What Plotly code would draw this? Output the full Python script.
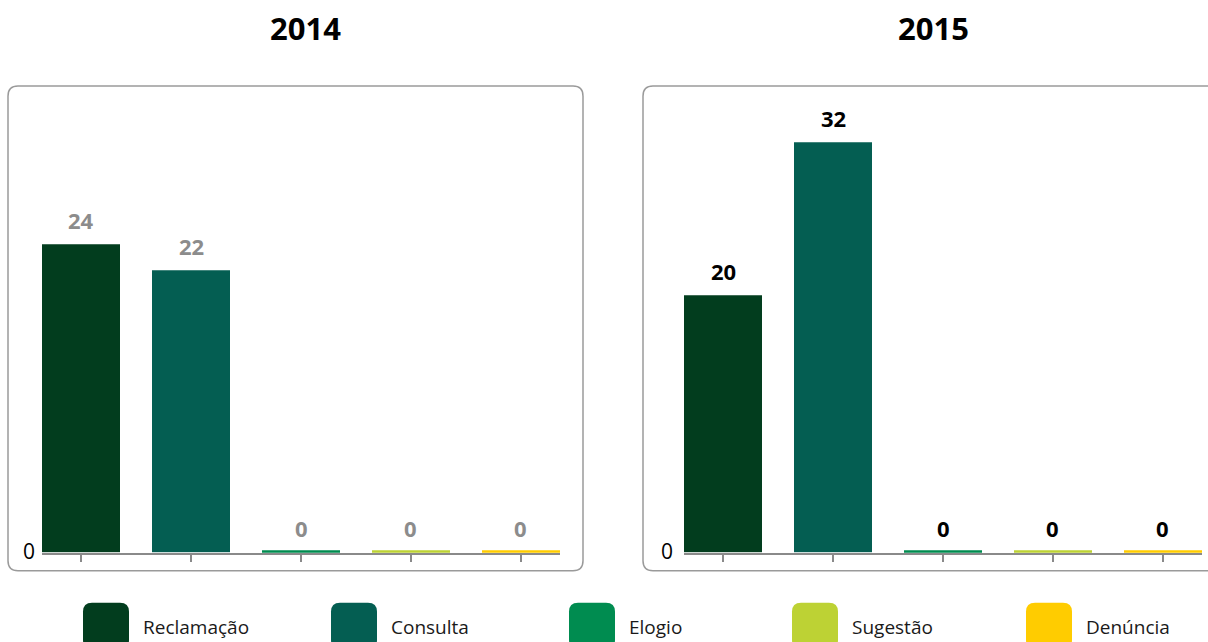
import plotly.graph_objects as go

# Manifestações por tipo, por ano
categorias = ["Reclamação", "Consulta", "Elogio", "Sugestão", "Denúncia"]
valores_2014 = [24, 22, 0, 0, 0]
valores_2015 = [20, 32, 0, 0, 0]
anos = ["2014", "2015"]
cores = ["#023d1e", "#045e52", "#008c50", "#bdd234", "#ffcc00"]

W, H = 1208, 642
FONT = "Open Sans"
K = 1.0205  # vertical layout correction


def px(x):
    return x / W


def py(y):
    return 1 - y * K / H


BAR_W = 0.71
x_range = [-BAR_W / 2, len(categorias) - 1 + BAR_W / 2]
y_range = [-0.08, 35.94]

fig = go.Figure()

paineis = [
    # (valores, eixo x, eixo y, cor dos rótulos)
    (valores_2014, "x", "y", "#8c8c8c"),
    (valores_2015, "x2", "y2", "#000000"),
]

for valores, xa, ya, cor_rotulo in paineis:
    # barras de valor zero aparecem como uma faixa fina sobre o eixo
    larguras = [4 if v == 0 else 0 for v in valores]
    fig.add_trace(go.Bar(
        x=categorias, y=valores, xaxis=xa, yaxis=ya,
        width=BAR_W,
        marker=dict(color=cores, line=dict(color=cores, width=larguras)),
        showlegend=False, hoverinfo="skip",
    ))
    for c, v in zip(categorias, valores):
        fig.add_annotation(
            x=c, y=v, xref=xa, yref=ya, text=f"<b>{v}</b>",
            showarrow=False, yanchor="bottom", yshift=7,
            font=dict(family=FONT, size=22, color=cor_rotulo),
        )

eixo_x = dict(
    type="category", categoryorder="array", categoryarray=categorias,
    range=x_range, showgrid=False, zeroline=False, showticklabels=False,
    showline=True, linecolor="#8a8a8a", linewidth=2,
    ticks="outside", ticklen=7, tickwidth=1.5, tickcolor="#8a8a8a",
    fixedrange=True,
)
eixo_y = dict(
    range=y_range, showgrid=False, zeroline=False, showline=False,
    tickvals=[0], ticktext=["0"], ticks="",
    tickfont=dict(family=FONT, size=21, color="#000000"),
    domain=[py(552), py(91)], fixedrange=True,
)

fig.update_layout(
    width=W, height=H,
    margin=dict(l=0, r=0, t=0, b=0),
    paper_bgcolor="white", plot_bgcolor="rgba(0,0,0,0)",
    bargap=0,
    xaxis=dict(eixo_x, domain=[px(42), px(560)], anchor="y"),
    yaxis=dict(eixo_y, anchor="x", ticklabelstandoff=6),
    xaxis2=dict(eixo_x, domain=[px(684), px(1202)], anchor="y2"),
    yaxis2=dict(eixo_y, anchor="x2", ticklabelstandoff=10),
    font=dict(family=FONT),
)


def retangulo_arredondado(x0, y0, x1, y1, r):
    return (
        f"M {px(x0 + r)} {py(y0)} L {px(x1 - r)} {py(y0)} "
        f"Q {px(x1)} {py(y0)} {px(x1)} {py(y0 + r)} "
        f"L {px(x1)} {py(y1 - r)} "
        f"Q {px(x1)} {py(y1)} {px(x1 - r)} {py(y1)} "
        f"L {px(x0 + r)} {py(y1)} "
        f"Q {px(x0)} {py(y1)} {px(x0)} {py(y1 - r)} "
        f"L {px(x0)} {py(y0 + r)} "
        f"Q {px(x0)} {py(y0)} {px(x0 + r)} {py(y0)} Z"
    )


# molduras dos painéis
for x0 in (8, 643):
    fig.add_shape(
        type="path", xref="paper", yref="paper",
        path=retangulo_arredondado(x0, 86, x0 + 575, 570, 10),
        line=dict(color="#9a9a9a", width=1.5), layer="below",
    )

# títulos dos anos
for ano, xc in zip(anos, (305, 933)):
    fig.add_annotation(
        x=px(xc), y=py(28), xref="paper", yref="paper",
        text=f"<b>{ano}</b>", showarrow=False,
        xanchor="center", yanchor="middle",
        font=dict(family=FONT, size=31, color="#000000"),
    )

# legenda
legenda_x = [83, 331, 569, 792, 1026]
for cat, cor, lx in zip(categorias, cores, legenda_x):
    fig.add_shape(
        type="path", xref="paper", yref="paper",
        path=retangulo_arredondado(lx, 602, lx + 46, 648, 9),
        fillcolor=cor, line=dict(width=0),
    )
    fig.add_annotation(
        x=px(lx + 58), y=py(626), xref="paper", yref="paper",
        text=cat, showarrow=False, xanchor="left", yanchor="middle",
        font=dict(family=FONT, size=19, color="#1a1a1a"),
    )

fig.write_html("out.html")
